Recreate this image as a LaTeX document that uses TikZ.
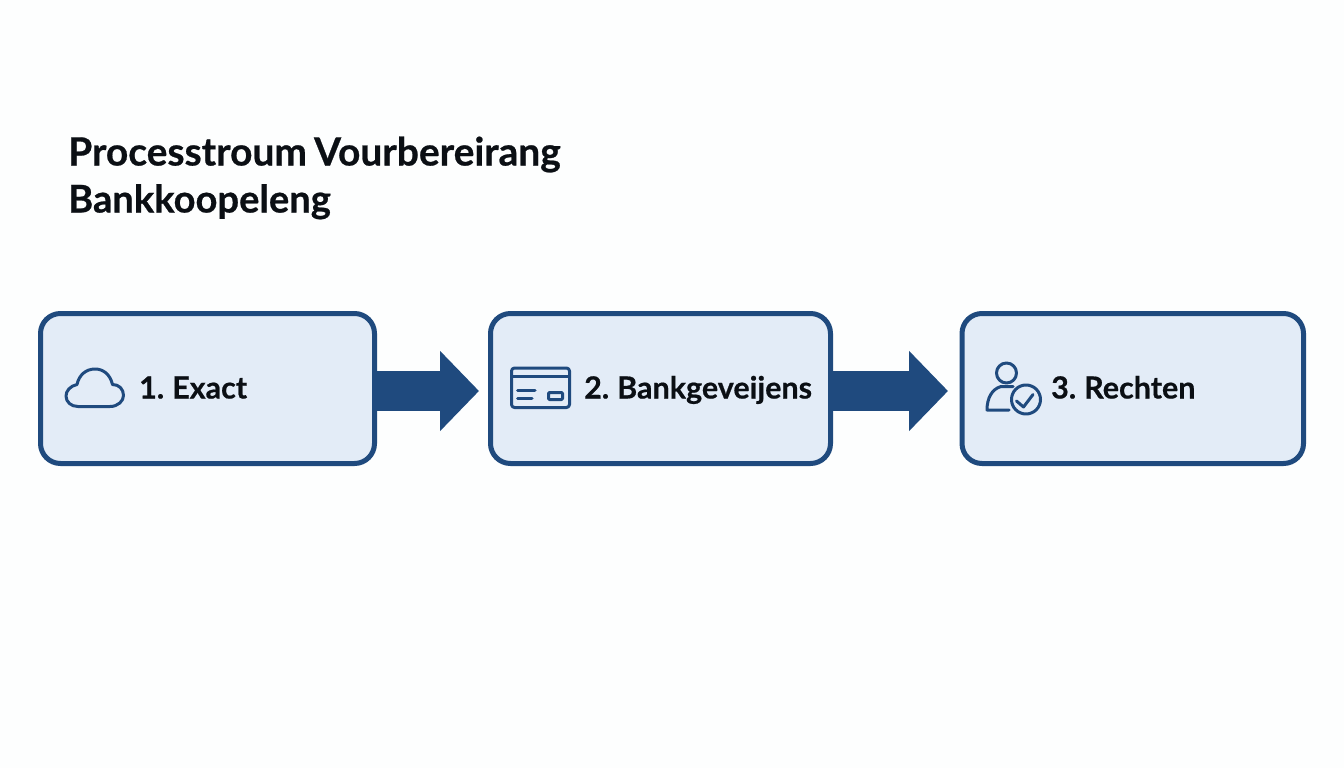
\documentclass[tikz,border=0pt]{standalone}
\usepackage{fontspec}
\setmainfont[WordSpace=0.75,BoldFeatures={FakeBold=0.6}]{Lato}
\usetikzlibrary{arrows.meta}
\definecolor{navy}{HTML}{1F4A7E}
\definecolor{boxfill}{HTML}{E3ECF7}
\definecolor{ink}{HTML}{0B0F14}
\definecolor{paper}{HTML}{FDFEFE}
\tikzset{
  x=1pt,y=-1pt,
  box/.style={draw=navy,fill=boxfill,line width=5pt,rounded corners=20pt,minimum height=150pt,inner sep=0pt},
  flow/.style={navy,line width=40pt,-{Triangle[length=39pt,width=78pt]}},
  label/.style={anchor=base west,inner sep=0pt,text=ink,font=\fontsize{30.5}{34}\selectfont\bfseries},
  titletext/.style={anchor=base west,inner sep=0pt,text=ink,font=\fontsize{#1}{46}\selectfont\bfseries},
  icon/.style={draw=navy,line width=3pt,line cap=round,line join=round},
}
\begin{document}
\begin{tikzpicture}
\useasboundingbox (0,0) rectangle (1344,768);
\fill[paper] (0,0) rectangle (1344,768);
\node[titletext=38.9] (t1) at (68,165.5) {Processtroum Vourbereirang};
\node[titletext=38.1] (t2) at (68,212.5) {Bankkoopeleng};
\node[box,minimum width=334pt] (a) at (207.5,388.5) {};
\node[box,minimum width=340pt] (b) at (660.5,388.5) {};
\node[box,minimum width=341.5pt] (c) at (1132.75,388.5) {};
\draw[flow,shorten >=9pt] ([yshift=-2.5pt]a.east) -- ([yshift=-2.5pt]b.west);
\draw[flow,shorten >=11.5pt] ([yshift=-2.5pt]b.east) -- ([yshift=-2.5pt]c.west);
\node[label] (l1) at (139,398.5) {1. Exact};
\node[label] (l2) at (584,398.5) {2. Bankgeveijens};
\node[label] (l3) at (1051,398.5) {3. Rechten};
% cloud
\draw[icon] (78,406.5) -- (110,406.5)
  .. controls (118,406.5) and (123.5,401) .. (123.5,395.5)
  .. controls (123.5,389) and (119,384.5) .. (112.5,384.5)
  .. controls (110,374) and (103,369) .. (95,369)
  .. controls (86,369) and (79,375) .. (77,384.5)
  .. controls (70,386) and (66,391) .. (66,396)
  .. controls (66,402) and (71,406.5) .. (78,406.5) -- cycle;
% card
\draw[icon,rounded corners=3pt] (511.5,368) rectangle (569.5,407.5);
\draw[icon,line cap=butt] (511.5,376.5) -- (569.5,376.5);
\draw[icon] (517.5,390.5) -- (535,390.5);
\draw[icon] (517.5,398) -- (532,398);
\draw[icon,rounded corners=1pt] (548.5,392.5) rectangle (562.5,399.5);
% person with badge
\draw[icon] (1006.5,373) circle (10);
\draw[icon] (1009,410) -- (987,410)
  .. controls (987,398) and (992,389) .. (1001,386.5)
  -- (1013,386.5);
\draw[icon,fill=boxfill] (1026,399.5) circle (14.5);
\draw[icon] (1016.5,401) -- (1023.5,407) -- (1033,394.5);
\end{tikzpicture}
\end{document}
